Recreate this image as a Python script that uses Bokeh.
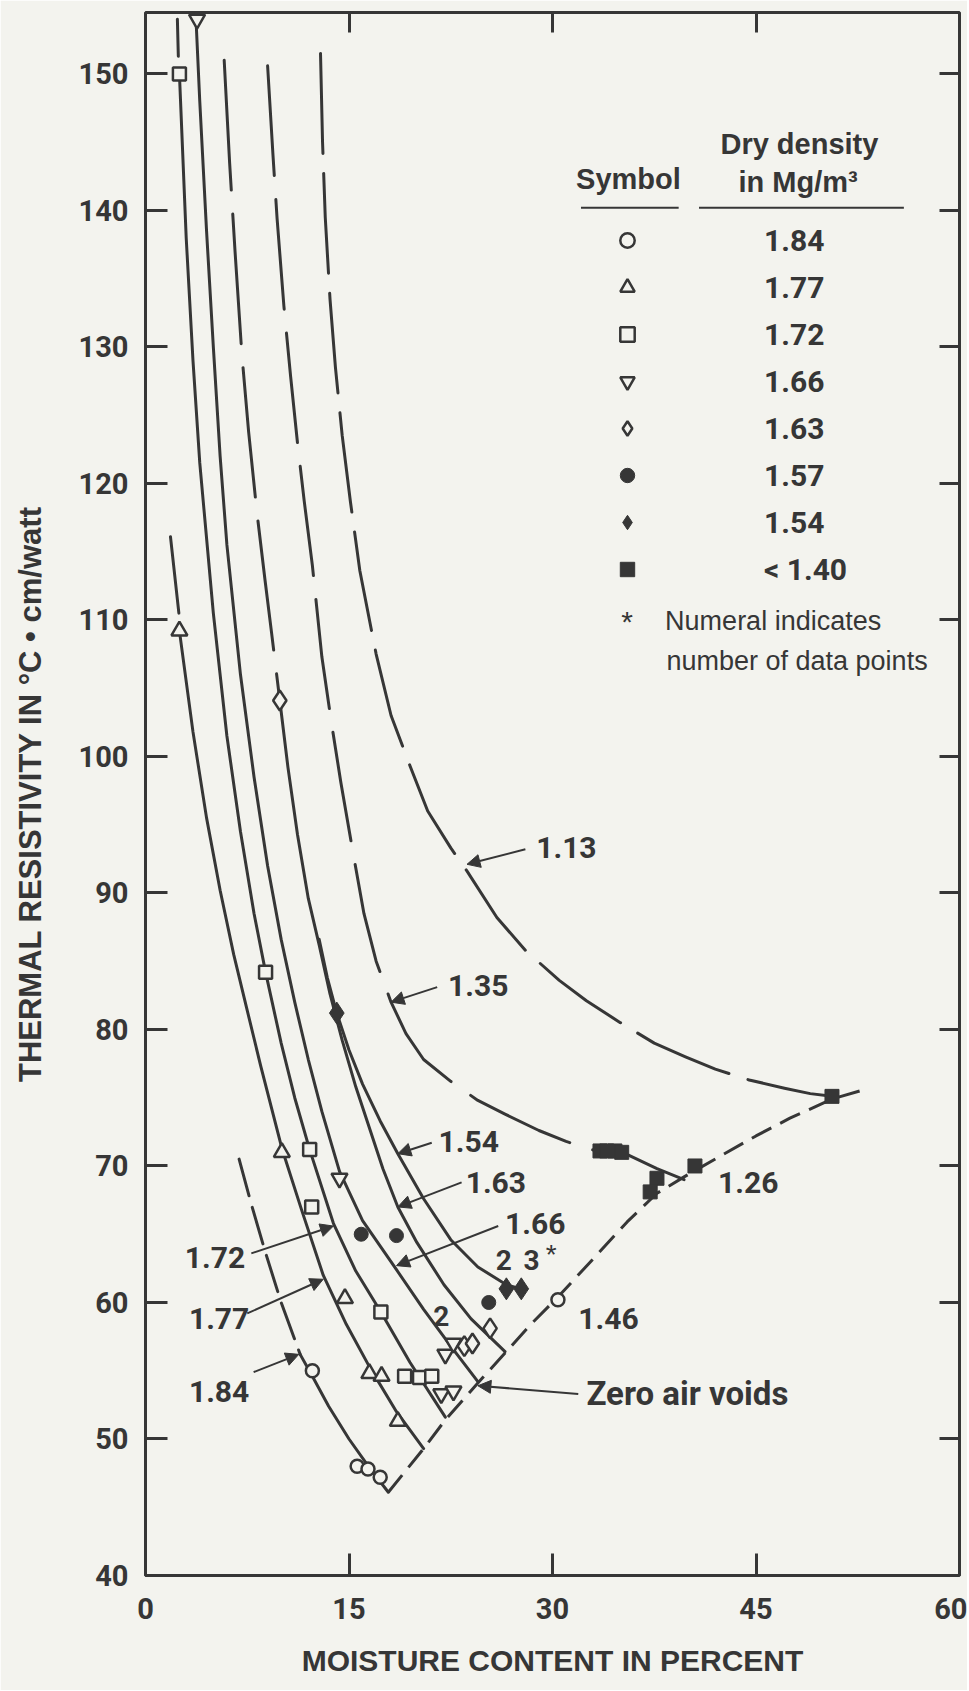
from bokeh.plotting import figure
from bokeh.models import (Range1d, LinearAxis, FixedTicker, Label, Arrow,
                          NormalHead, Legend, LegendItem)
from bokeh.embed import file_html
from bokeh.resources import INLINE

# ------------------------------------------------------------------ data
x_ticks = [0, 15, 30, 45, 60]
y_ticks = [40, 50, 60, 70, 80, 90, 100, 110, 120, 130, 140, 150]

# measured points, by dry density (Mg/m3)
d184_x = [12.3, 15.6, 16.4, 17.3, 30.4]
d184_y = [55.0, 48.0, 47.8, 47.2, 60.2]
d177_x = [2.5, 10.05, 14.7, 16.5, 17.4, 18.6]
d177_y = [109.2, 71.0, 60.3, 54.8, 54.6, 51.3]
d172_x = [2.5, 8.85, 12.1, 12.25, 17.35, 19.1, 20.2, 21.1]
d172_y = [150.0, 84.2, 71.2, 67.0, 59.3, 54.6, 54.5, 54.6]
d166_x = [3.8, 14.3, 22.1, 22.7, 21.8, 22.7]
d166_y = [154.0, 69.1, 56.2, 57.0, 53.3, 53.5]
d163_x = [9.9, 23.5, 24.1, 25.4]
d163_y = [104.1, 56.8, 57.0, 58.1]
d157_x = [15.9, 18.5, 25.3]
d157_y = [65.0, 64.9, 60.0]
d154_x = [14.1, 26.6, 27.7]
d154_y = [81.2, 61.0, 61.0]
d140_x = [33.5, 34.0, 34.6, 35.1, 37.7, 37.2, 40.5, 50.6]
d140_y = [71.1, 71.1, 71.1, 71.0, 69.1, 68.1, 70.0, 75.1]

# fitted curves
c184_dash_x = [6.9, 7.8, 8.8, 10.0, 11.4]
c184_dash_y = [70.5, 67.2, 63.8, 60.0, 56.2]
c184_x = [11.4, 12.3, 13.5, 15.0, 16.5, 17.9]
c184_y = [56.2, 54.6, 52.4, 50.0, 47.9, 46.1]

c177_top_x = [1.84, 2.46]
c177_top_y = [116.1, 110.5]
c177_x = [2.5, 3.5, 4.5, 5.5, 6.5, 7.35, 8.5, 10.05, 11.5, 13.1, 14.8, 16.5, 18.5, 20.5]
c177_y = [109.2, 101.8, 95.5, 90.2, 85.5, 82.0, 77.3, 71.3, 66.8, 62.0, 58.4, 55.3, 52.0, 49.3]

c172_top_x = [2.35, 2.42]
c172_top_y = [154.0, 151.3]
c172_x = [2.5, 3.0, 3.5, 4.0, 5.0, 6.0, 7.0, 8.0, 8.85, 10.0, 11.0, 12.1, 13.85, 15.5, 17.35, 19.5, 22.1]
c172_y = [150.0, 138.0, 129.0, 121.5, 110.5, 101.5, 94.5, 88.5, 84.2, 79.0, 75.0, 71.2, 65.8, 62.3, 59.3, 55.6, 51.6]

c166_x = [3.7, 4.0, 4.5, 5.0, 5.5, 6.0, 7.0, 8.0, 9.0, 10.0, 11.0, 12.0, 13.0, 14.3, 16.0, 18.5, 20.5, 22.5, 24.5]
c166_y = [154.5, 148.0, 138.5, 130.0, 122.0, 115.5, 106.0, 98.5, 92.0, 86.6, 82.0, 77.8, 74.0, 69.6, 66.0, 62.4, 59.5, 56.8, 54.2]

c163_dash_x = [5.8, 6.2, 6.6, 7.1, 7.6, 8.2, 8.8, 9.3, 9.9]
c163_dash_y = [151.0, 143.5, 137.0, 129.5, 123.8, 118.0, 113.0, 109.0, 104.1]
c163_x = [9.9, 10.5, 11.2, 12.0, 12.8, 13.6, 14.5, 15.5, 16.5, 17.5, 18.6, 20.0, 22.0, 24.0, 26.5]
c163_y = [104.1, 99.2, 94.3, 89.6, 86.2, 82.6, 79.2, 75.8, 72.8, 69.8, 67.0, 64.4, 61.3, 58.8, 56.4]

c154_x = [12.8, 13.4, 14.1, 15.0, 16.0, 17.3, 18.6, 20.5, 22.5, 24.5, 26.6, 27.7]
c154_y = [86.6, 83.8, 81.2, 78.5, 76.0, 73.3, 70.9, 67.6, 64.6, 62.6, 61.3, 61.0]

c135_x = [9.0, 9.4, 9.7, 10.2, 10.7, 11.2, 11.7, 12.3, 13.0, 13.7, 14.4, 15.2, 16.1, 17.0,
          18.1, 19.2, 20.5, 22.5, 24.5, 26.5, 29.0, 31.0, 33.2]
c135_y = [150.6, 144.0, 139.4, 133.0, 127.8, 123.0, 118.7, 114.0, 107.3, 102.5, 98.1, 93.5, 88.5, 85.0,
          82.0, 79.7, 77.8, 76.2, 74.8, 73.8, 72.6, 71.8, 71.1]

c126_x = [33.2, 35.6, 37.7, 39.7]
c126_y = [71.1, 70.8, 69.8, 69.0]

c113_x = [12.9, 13.05, 13.25, 13.6, 14.0, 14.5, 15.1, 15.8, 17.0, 18.1, 19.5, 20.8, 22.5, 23.7,
          25.9, 28.0, 30.5, 32.5, 35.0, 37.5, 39.8, 42.0, 44.5, 47.1, 49.0, 50.6]
c113_y = [151.5, 145.0, 139.5, 133.5, 128.5, 123.5, 118.7, 113.6, 107.5, 103.0, 99.3, 96.0, 93.3, 91.6,
          88.2, 85.8, 83.6, 82.1, 80.5, 79.0, 78.0, 77.1, 76.3, 75.7, 75.3, 75.1]

zav_x = [17.9, 20.5, 22.1, 24.5, 26.5, 28.5, 30.4, 33.0, 35.5, 37.7, 39.7, 42.5, 45.0, 47.5, 50.6, 53.0]
zav_y = [46.1, 49.3, 51.4, 54.1, 56.3, 58.5, 60.4, 63.2, 65.9, 68.0, 69.2, 70.8, 72.2, 73.5, 74.9, 75.6]

legend_labels = ["1.84", "1.77", "1.72", "1.66", "1.63", "1.57", "1.54", "< 1.40"]

# ------------------------------------------------------------------ style
INK = "#363636"
BG = "#f3f3ee"
NUM = "Roboto"
SANS = "Liberation Sans"

p = figure(width=967, height=1690, output_backend="svg", toolbar_location=None,
           x_range=Range1d(0, 60), y_range=Range1d(40, 154.5),
           min_border_left=145, min_border_right=8, min_border_top=12,
           min_border_bottom=115,
           background_fill_color=BG, border_fill_color=BG)
p.grid.visible = False
p.outline_line_color = INK
p.outline_line_width = 3

xa = p.xaxis[0]
xa.ticker = FixedTicker(ticks=x_ticks)
xa.axis_label = "MOISTURE CONTENT IN PERCENT"
ya = p.yaxis[0]
ya.ticker = FixedTicker(ticks=y_ticks)
ya.axis_label = "THERMAL RESISTIVITY IN \u00b0C \u2022 cm/watt"
for ax in (xa, ya):
    ax.axis_line_color = None
    ax.major_tick_in = 22
    ax.major_tick_out = 0
    ax.major_tick_line_width = 3
    ax.major_tick_line_color = INK
    ax.minor_tick_line_color = None
    ax.major_label_text_font = NUM
    ax.major_label_text_font_style = "bold"
    ax.major_label_text_font_size = "29px"
    ax.major_label_text_color = INK
    ax.axis_label_text_font = SANS
    ax.axis_label_text_font_style = "bold"
    ax.axis_label_text_color = INK
xa.axis_label_text_font_size = "30px"
ya.axis_label_text_font_size = "31px"
xa.major_label_standoff = 22
xa.axis_label_standoff = 22
ya.major_label_standoff = 17
ya.axis_label_standoff = 28

# tick-only axes on the right and top (labels not painted)
right = LinearAxis(ticker=FixedTicker(ticks=y_ticks[1:]))
top = LinearAxis(ticker=FixedTicker(ticks=x_ticks[1:-1]))
for ax in (right, top):
    ax.axis_line_color = None
    ax.major_tick_in = 20
    ax.major_tick_out = 0
    ax.major_tick_line_width = 3
    ax.major_tick_line_color = INK
    ax.minor_tick_line_color = None
    ax.major_label_text_font_size = "1px"
    ax.major_label_text_color = None
    ax.major_label_standoff = 0
p.add_layout(right, "right")
p.add_layout(top, "above")

# ------------------------------------------------------------------ curves
LW = 3
solid = dict(line_color=INK, line_width=LW, line_join="round", line_cap="round")
p.line(c184_dash_x, c184_dash_y, line_dash="38 12", **solid)
p.line(c184_x, c184_y, **solid)
p.line(c177_top_x, c177_top_y, **solid)
p.line(c177_x, c177_y, **solid)
p.line(c172_top_x, c172_top_y, **solid)
p.line(c172_x, c172_y, **solid)
p.line(c166_x, c166_y, **solid)
p.line(c163_dash_x, c163_dash_y, line_dash="130 24", **solid)
p.line(c163_x, c163_y, **solid)
p.line(c154_x, c154_y, **solid)
p.line(c135_x, c135_y, line_dash="110 24", **solid)
p.line(c126_x, c126_y, **solid)
p.line(c113_x, c113_y, line_dash="100 20", **solid)
p.line(zav_x, zav_y, line_dash="22 10", line_color=INK, line_width=LW)

# ------------------------------------------------------------------ markers
opn = dict(fill_color=BG, line_color=INK, line_width=2.5)
fil = dict(fill_color=INK, line_color=INK, line_width=1)
r184 = p.scatter(d184_x, d184_y, marker="circle", size=13, **opn)
r177 = p.scatter(d177_x, d177_y, marker="triangle", size=16, **opn)
r172 = p.scatter(d172_x, d172_y, marker="square", size=13, **opn)
r166 = p.scatter(d166_x, d166_y, marker="inverted_triangle", size=16, **opn)
r163 = p.scatter(d163_x, d163_y, marker="diamond", size=20, **opn)
r157 = p.scatter(d157_x, d157_y, marker="circle", size=14, **fil)
r154 = p.scatter(d154_x, d154_y, marker="diamond", size=22, **fil)
r140 = p.scatter(d140_x, d140_y, marker="square", size=14, **fil)

legend = Legend(
    items=[LegendItem(label=lab, renderers=[r]) for lab, r in
           zip(legend_labels, [r184, r177, r172, r166, r163, r157, r154, r140])],
    location=(464, 988), orientation="vertical",
    glyph_width=36, glyph_height=36, label_height=30, spacing=11,
    label_standoff=119, padding=0, margin=0,
    label_text_font=NUM, label_text_font_style="bold",
    label_text_font_size="30px", label_text_color=INK, label_text_align="center",
    label_text_baseline="middle",
    background_fill_alpha=0, border_line_color=None)
p.add_layout(legend, "center")

# ------------------------------------------------------------------ texts
def txt(x, y, s, size="30px", font=NUM, align="left", style="bold", **kw):
    p.add_layout(Label(x=x, y=y, text=s, text_font=font, text_font_size=size,
                       text_font_style=style, text_color=INK, text_align=align,
                       text_baseline="middle", **kw))

txt(35.6, 142.3, "Symbol", size="29px", font=SANS, align="center")
txt(48.2, 144.9, "Dry density", size="29px", font=SANS, align="center")
txt(48.1, 142.1, "in Mg/m\u00b3", size="29px", font=SANS, align="center")
p.segment(x0=[32.1, 40.8], y0=[140.2, 140.2], x1=[39.3, 55.9], y1=[140.2, 140.2],
          line_color=INK, line_width=2)
txt(35.5, 109.9, "*", size="30px", font=SANS, align="center", style="normal")
txt(38.3, 109.9, "Numeral indicates", size="27px", font=SANS, style="normal")
txt(38.4, 107.0, "number of data points", size="27px", font=SANS, style="normal")

txt(28.8, 93.3, "1.13")
txt(22.3, 83.2, "1.35")
txt(21.6, 71.8, "1.54")
txt(23.6, 68.8, "1.63")
txt(26.5, 65.8, "1.66")
txt(42.2, 68.8, "1.26")
txt(31.9, 58.8, "1.46")
txt(2.9, 63.3, "1.72")
txt(3.2, 58.8, "1.77")
txt(3.2, 53.5, "1.84")
txt(32.5, 53.3, "Zero air voids", size="33px")
txt(21.8, 59.0, "2", size="28px", align="center")
txt(26.4, 63.1, "2", size="28px", align="center")
txt(28.45, 63.1, "3", size="28px", align="center")
txt(29.9, 63.5, "*", size="28px", font=SANS, align="center", style="normal")

arrows = [((28.0, 93.2), (23.7, 92.1)), ((21.5, 83.1), (18.1, 82.0)),
          ((21.1, 71.7), (18.6, 70.9)), ((23.3, 68.8), (18.6, 67.0)),
          ((26.0, 65.6), (18.5, 62.7)), ((7.8, 63.6), (13.85, 65.6)),
          ((7.5, 59.2), (13.1, 61.7)), ((7.97, 54.9), (11.3, 56.2)),
          ((31.9, 53.3), (24.5, 53.9))]
for (xs, ys), (xe, ye) in arrows:
    p.add_layout(Arrow(end=NormalHead(size=13, fill_color=INK, line_color=INK, line_width=1),
                       x_start=xs, y_start=ys, x_end=xe, y_end=ye,
                       line_color=INK, line_width=2))

html = file_html(p, INLINE, title="Thermal resistivity")
html = html.replace("<body>", '<body style="background-color:%s;">' % BG, 1)
open("out.html", "w").write(html)
